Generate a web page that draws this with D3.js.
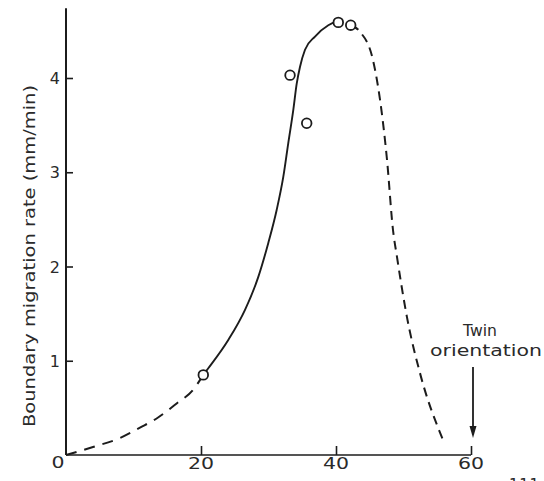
<!DOCTYPE html>
<html>
<head>
<meta charset="utf-8">
<script src="https://cdn.jsdelivr.net/npm/d3@7"></script>
<style>
  html, body { margin: 0; padding: 0; background: #fff; }
  svg { display: block; }
  text { font-family: "DejaVu Sans", sans-serif; fill: #2a2a2a; }
</style>
</head>
<body>
<svg id="chart" width="544" height="481"></svg>
<script>
// Measured migration rates (angle in degrees, rate in mm/min)
const pointAngles = [20.34, 33.19, 35.66, 40.34, 42.18];
const pointRates  = [0.85, 4.03, 3.52, 4.59, 4.56];

// Fitted curve: extrapolated low-angle part (dashed)
const lowAngles = [0, 4.0, 8.0, 10.96, 13.48, 16.44, 18.81, 20.34];
const lowRates  = [0, 0.085, 0.18, 0.29, 0.39, 0.55, 0.69, 0.85];

// Fitted curve through the measured range (solid)
const midAngles = [20.34, 21.08, 24.04, 26.52, 28.49, 29.97, 31.21, 32.19, 32.93, 33.67, 34.18, 34.67, 35.41, 36.89, 38.86, 40.10, 40.6];
const midRates  = [0.85, 0.92, 1.22, 1.54, 1.89, 2.25, 2.60, 2.95, 3.31, 3.66, 3.94, 4.12, 4.30, 4.44, 4.56, 4.60, 4.605];

// Extrapolated fall-off toward the twin orientation (dashed)
const highAngles = [42.18, 43.56, 45.48, 46.52, 47.56, 48.44, 49.04, 50.52, 52.44, 55.85];
const highRates  = [4.56, 4.49, 4.19, 3.77, 3.13, 2.39, 2.10, 1.46, 0.87, 0.16];

const xTicks = [0, 20, 40, 60];
const yTicks = [1, 2, 3, 4];
const yTop = 4.74;
const twinAngle = 60;

const svg = d3.select("#chart");
const ink = "#1c1c1c";

const x = d3.scaleLinear().domain([0, 60]).range([66, 471]);
const y = d3.scaleLinear().domain([0, 4]).range([455, 78]);

// Axes: plain lines with inward ticks
const xAxis = d3.axisBottom(x).tickValues(xTicks.slice(1)).tickSize(-9).tickFormat("");
const gx = svg.append("g").attr("transform", `translate(0,${y(0)})`).call(xAxis);
gx.select(".domain").attr("d", `M${x(0)},0H${x(60)}`).attr("stroke", ink).attr("stroke-width", 1.6);
gx.selectAll(".tick line").attr("stroke", ink).attr("stroke-width", 1.6);

const yAxis = d3.axisLeft(y).tickValues(yTicks).tickSize(-7).tickFormat("");
const gy = svg.append("g").attr("transform", `translate(${x(0)},0)`).call(yAxis);
gy.select(".domain").attr("d", `M0,${y(0)}V${y(yTop)}`).attr("stroke", ink).attr("stroke-width", 2);
gy.selectAll(".tick line").attr("stroke", ink).attr("stroke-width", 1.6);

// Tick labels
svg.selectAll(".ylab").data(yTicks).enter().append("text")
  .attr("x", x(0) - 6).attr("y", d => y(d) + 6)
  .attr("text-anchor", "end").attr("font-size", 16)
  .text(d => d);

svg.selectAll(".xlab").data(xTicks.slice(1)).enter().append("text")
  .attr("x", d => x(d)).attr("y", 469)
  .attr("text-anchor", "middle").attr("font-size", 16)
  .attr("textLength", 26).attr("lengthAdjust", "spacingAndGlyphs")
  .text(d => d);

svg.append("text")
  .attr("x", x(0) - 8).attr("y", 468)
  .attr("text-anchor", "middle").attr("font-size", 16)
  .attr("textLength", 13).attr("lengthAdjust", "spacingAndGlyphs")
  .text(xTicks[0]);

// Y axis title
svg.append("text")
  .attr("transform", `translate(35,256) rotate(-90)`)
  .attr("text-anchor", "middle").attr("font-size", 15.5)
  .attr("textLength", 342).attr("lengthAdjust", "spacingAndGlyphs")
  .text("Boundary migration rate (mm/min)");

// Curve
const line = d3.line().x(d => x(d[0])).y(d => y(d[1])).curve(d3.curveMonotoneX);
const zip = (a, b) => a.map((v, i) => [v, b[i]]);

svg.append("path").datum(zip(lowAngles, lowRates)).attr("d", line)
  .attr("fill", "none").attr("stroke", ink).attr("stroke-width", 2)
  .attr("stroke-dasharray", "11,8");

svg.append("path").datum(zip(midAngles, midRates)).attr("d", line)
  .attr("fill", "none").attr("stroke", ink).attr("stroke-width", 1.9);

svg.append("path").datum(zip(highAngles, highRates)).attr("d", line)
  .attr("fill", "none").attr("stroke", ink).attr("stroke-width", 2)
  .attr("stroke-dasharray", "9,6");

// Data points
svg.selectAll(".pt").data(zip(pointAngles, pointRates)).enter().append("circle")
  .attr("cx", d => x(d[0])).attr("cy", d => y(d[1])).attr("r", 4.8)
  .attr("fill", "#fff").attr("stroke", ink).attr("stroke-width", 1.8);

// Twin orientation annotation
const ax = x(twinAngle) + 2;
svg.append("text").attr("x", 480).attr("y", 336)
  .attr("text-anchor", "middle").attr("font-size", 15)
  .attr("textLength", 34).attr("lengthAdjust", "spacingAndGlyphs")
  .text("Twin");
svg.append("text").attr("x", 486).attr("y", 356)
  .attr("text-anchor", "middle").attr("font-size", 15)
  .attr("textLength", 112).attr("lengthAdjust", "spacingAndGlyphs")
  .text("orientation");
svg.append("line").attr("x1", ax).attr("x2", ax).attr("y1", 367).attr("y2", 428)
  .attr("stroke", ink).attr("stroke-width", 1.8);
svg.append("path").attr("d", `M${ax - 3.5},${426}L${ax + 3.5},${426}L${ax},${438}Z`)
  .attr("fill", ink);

// Bottom margin label fragment
svg.append("text").attr("x", 524).attr("y", 490)
  .attr("text-anchor", "middle").attr("font-size", 15)
  .attr("textLength", 30).attr("lengthAdjust", "spacing")
  .text("111");
</script>
</body>
</html>
